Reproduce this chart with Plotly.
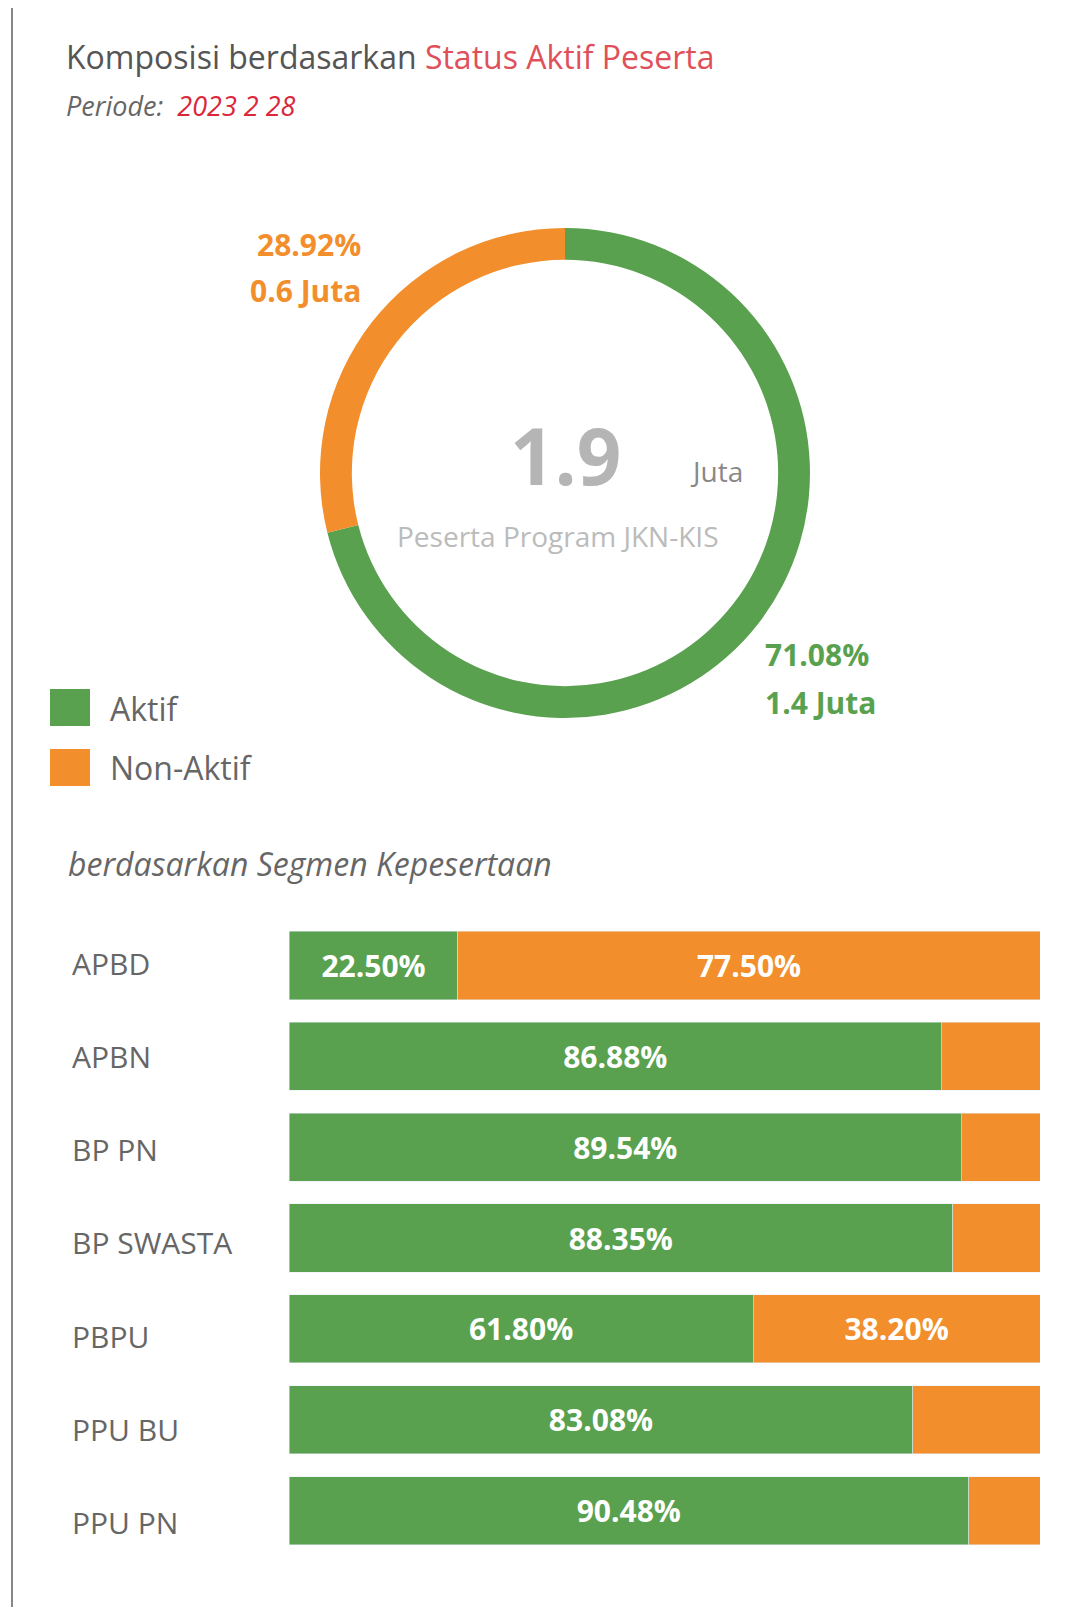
import plotly.graph_objects as go

# donut data
status = ["Aktif", "Non-Aktif"]
status_pct = [71.08, 28.92]
status_juta = [1.4, 0.6]
total_juta = 1.9

# bar data
segmen = ["APBD", "APBN", "BP PN", "BP SWASTA", "PBPU", "PPU BU", "PPU PN"]
aktif_pct = [22.50, 86.88, 89.54, 88.35, 61.80, 83.08, 90.48]
nonaktif_pct = [round(100 - v, 2) for v in aktif_pct]
show_nonaktif = ["APBD", "PBPU"]

GREEN = "#59a14f"
ORANGE = "#f28e2b"
W, H = 1080, 1607
FONT = "Open Sans"

fig = go.Figure()

fig.add_trace(go.Pie(
    labels=status, values=status_pct, hole=0.87, sort=False,
    direction="clockwise", rotation=0,
    marker=dict(colors=[GREEN, ORANGE], line=dict(width=0)),
    textinfo="none", showlegend=False,
    domain=dict(x=[312/W, 802/W], y=[1-712/H, 1-218/H]),
))

fig.add_trace(go.Bar(
    y=segmen, x=aktif_pct, orientation="h", marker_color=GREEN,
    text=["<b>%.2f%%</b>" % v for v in aktif_pct], textposition="inside",
    insidetextanchor="middle", textfont=dict(color="white", size=30, family=FONT),
    showlegend=False, xaxis="x", yaxis="y",
))
fig.add_trace(go.Bar(
    y=segmen, x=nonaktif_pct, orientation="h", marker_color=ORANGE,
    text=["<b>%.2f%%</b>" % v if s in show_nonaktif else "" for s, v in zip(segmen, nonaktif_pct)],
    textposition="inside", insidetextanchor="middle",
    textfont=dict(color="white", size=30, family=FONT),
    showlegend=False, xaxis="x", yaxis="y",
))

fig.update_layout(
    width=W, height=H, margin=dict(l=0, r=0, t=0, b=0),
    paper_bgcolor="white", plot_bgcolor="white", barmode="stack", bargap=0.25,
    font=dict(family=FONT, color="#555"),
    uniformtext=dict(minsize=10, mode="show"),
    xaxis=dict(domain=[281/W, 1032/W], range=[0, 100], visible=False),
    yaxis=dict(domain=[1-1548/H, 1-912/H], autorange="reversed", visible=False),
)

ann = []
def txt(x, y, t, size, color="#555", xanchor="left", **kw):
    ann.append(dict(x=x/W, y=1-y/H, xref="paper", yref="paper", text=t, showarrow=False,
                    xanchor=xanchor, yanchor="middle", font=dict(size=size, color=color, family=FONT), **kw))

txt(56, 48, "Komposisi berdasarkan <span style='color:#e0505a'>Status Aktif Peserta</span>", 32)
txt(56, 98, "<i>Periode:  <span style='color:#d9283a'>2023 2 28</span></i>", 27, color="#666")
txt(355, 236, "<b>%.2f%%</b>" % status_pct[1], 30, color=ORANGE, xanchor="right")
txt(355, 282, "<b>%.1f Juta</b>" % status_juta[1], 30, color=ORANGE, xanchor="right")
txt(755, 646, "<b>%.2f%%</b>" % status_pct[0], 30, color=GREEN)
txt(755, 695, "<b>%.1f Juta</b>" % status_juta[0], 30, color=GREEN)
txt(557, 447, "<b>%.1f</b>" % total_juta, 78, color="#b5b5b5", xanchor="center")
txt(680, 463, "Juta", 28, color="#888")
txt(550, 528, "Peserta Program JKN-KIS", 28, color="#bbb", xanchor="center")
txt(100, 700, "Aktif", 32, color="#666")
txt(100, 760, "Non-Aktif", 32, color="#666")
txt(58, 855, "<i>berdasarkan Segmen Kepesertaan</i>", 32, color="#666")
for i, s in enumerate(segmen):
    txt(62, 955 + i * 93.3, s, 30, color="#666")
fig.update_layout(annotations=ann)

fig.add_shape(type="rect", xref="paper", yref="paper", x0=42/W, x1=82/W, y0=1-718/H, y1=1-681/H,
              fillcolor=GREEN, line=dict(width=0))
fig.add_shape(type="rect", xref="paper", yref="paper", x0=42/W, x1=82/W, y0=1-778/H, y1=1-741/H,
              fillcolor=ORANGE, line=dict(width=0))
fig.add_shape(type="line", xref="paper", yref="paper", x0=4/W, x1=4/W, y0=0, y1=1,
              line=dict(color="#888", width=2))

fig.write_html("out.html")
